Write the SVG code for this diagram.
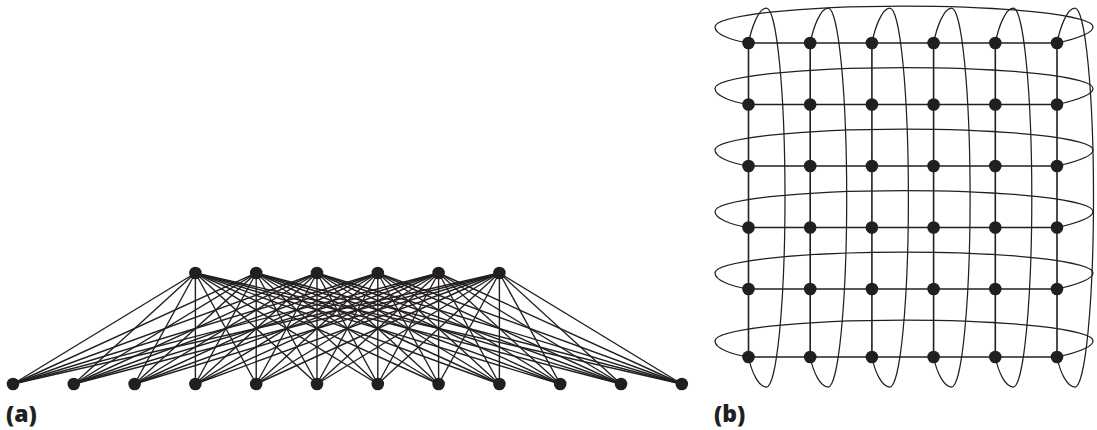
<svg xmlns="http://www.w3.org/2000/svg" width="1097" height="430" viewBox="0 0 1097 430">
<style>
.e{stroke:#231f20;stroke-width:1.4;fill:none}
.g{stroke:#231f20;stroke-width:1.6;fill:none}
.w{stroke:#231f20;stroke-width:1.25;fill:none}
.n{fill:#231f20}
.lbl{font-family:"Open Sans","Liberation Sans",sans-serif;font-weight:800;font-size:23px;fill:#231f20}
</style>
<defs><circle id="dot" r="6.3" class="n"/></defs>
<g id="connectors">
<g id="a-edges">
<line class="e" x1="195.4" y1="273" x2="13" y2="384"/><line class="e" x1="195.4" y1="273" x2="73.8" y2="384"/><line class="e" x1="195.4" y1="273" x2="134.6" y2="384"/><line class="e" x1="195.4" y1="273" x2="195.4" y2="384"/><line class="e" x1="195.4" y1="273" x2="256.2" y2="384"/><line class="e" x1="195.4" y1="273" x2="317" y2="384"/><line class="e" x1="195.4" y1="273" x2="377.8" y2="384"/><line class="e" x1="195.4" y1="273" x2="438.6" y2="384"/><line class="e" x1="195.4" y1="273" x2="499.4" y2="384"/><line class="e" x1="195.4" y1="273" x2="560.2" y2="384"/><line class="e" x1="195.4" y1="273" x2="621" y2="384"/><line class="e" x1="195.4" y1="273" x2="681.8" y2="384"/>
<line class="e" x1="256.2" y1="273" x2="13" y2="384"/><line class="e" x1="256.2" y1="273" x2="73.8" y2="384"/><line class="e" x1="256.2" y1="273" x2="134.6" y2="384"/><line class="e" x1="256.2" y1="273" x2="195.4" y2="384"/><line class="e" x1="256.2" y1="273" x2="256.2" y2="384"/><line class="e" x1="256.2" y1="273" x2="317" y2="384"/><line class="e" x1="256.2" y1="273" x2="377.8" y2="384"/><line class="e" x1="256.2" y1="273" x2="438.6" y2="384"/><line class="e" x1="256.2" y1="273" x2="499.4" y2="384"/><line class="e" x1="256.2" y1="273" x2="560.2" y2="384"/><line class="e" x1="256.2" y1="273" x2="621" y2="384"/><line class="e" x1="256.2" y1="273" x2="681.8" y2="384"/>
<line class="e" x1="317" y1="273" x2="13" y2="384"/><line class="e" x1="317" y1="273" x2="73.8" y2="384"/><line class="e" x1="317" y1="273" x2="134.6" y2="384"/><line class="e" x1="317" y1="273" x2="195.4" y2="384"/><line class="e" x1="317" y1="273" x2="256.2" y2="384"/><line class="e" x1="317" y1="273" x2="317" y2="384"/><line class="e" x1="317" y1="273" x2="377.8" y2="384"/><line class="e" x1="317" y1="273" x2="438.6" y2="384"/><line class="e" x1="317" y1="273" x2="499.4" y2="384"/><line class="e" x1="317" y1="273" x2="560.2" y2="384"/><line class="e" x1="317" y1="273" x2="621" y2="384"/><line class="e" x1="317" y1="273" x2="681.8" y2="384"/>
<line class="e" x1="377.8" y1="273" x2="13" y2="384"/><line class="e" x1="377.8" y1="273" x2="73.8" y2="384"/><line class="e" x1="377.8" y1="273" x2="134.6" y2="384"/><line class="e" x1="377.8" y1="273" x2="195.4" y2="384"/><line class="e" x1="377.8" y1="273" x2="256.2" y2="384"/><line class="e" x1="377.8" y1="273" x2="317" y2="384"/><line class="e" x1="377.8" y1="273" x2="377.8" y2="384"/><line class="e" x1="377.8" y1="273" x2="438.6" y2="384"/><line class="e" x1="377.8" y1="273" x2="499.4" y2="384"/><line class="e" x1="377.8" y1="273" x2="560.2" y2="384"/><line class="e" x1="377.8" y1="273" x2="621" y2="384"/><line class="e" x1="377.8" y1="273" x2="681.8" y2="384"/>
<line class="e" x1="438.6" y1="273" x2="13" y2="384"/><line class="e" x1="438.6" y1="273" x2="73.8" y2="384"/><line class="e" x1="438.6" y1="273" x2="134.6" y2="384"/><line class="e" x1="438.6" y1="273" x2="195.4" y2="384"/><line class="e" x1="438.6" y1="273" x2="256.2" y2="384"/><line class="e" x1="438.6" y1="273" x2="317" y2="384"/><line class="e" x1="438.6" y1="273" x2="377.8" y2="384"/><line class="e" x1="438.6" y1="273" x2="438.6" y2="384"/><line class="e" x1="438.6" y1="273" x2="499.4" y2="384"/><line class="e" x1="438.6" y1="273" x2="560.2" y2="384"/><line class="e" x1="438.6" y1="273" x2="621" y2="384"/><line class="e" x1="438.6" y1="273" x2="681.8" y2="384"/>
<line class="e" x1="499.4" y1="273" x2="13" y2="384"/><line class="e" x1="499.4" y1="273" x2="73.8" y2="384"/><line class="e" x1="499.4" y1="273" x2="134.6" y2="384"/><line class="e" x1="499.4" y1="273" x2="195.4" y2="384"/><line class="e" x1="499.4" y1="273" x2="256.2" y2="384"/><line class="e" x1="499.4" y1="273" x2="317" y2="384"/><line class="e" x1="499.4" y1="273" x2="377.8" y2="384"/><line class="e" x1="499.4" y1="273" x2="438.6" y2="384"/><line class="e" x1="499.4" y1="273" x2="499.4" y2="384"/><line class="e" x1="499.4" y1="273" x2="560.2" y2="384"/><line class="e" x1="499.4" y1="273" x2="621" y2="384"/><line class="e" x1="499.4" y1="273" x2="681.8" y2="384"/>
</g>
<g id="b-grid">
<line class="g" x1="748.5" y1="43" x2="1057" y2="43"/>
<line class="g" x1="748.5" y1="104.5" x2="1057" y2="104.5"/>
<line class="g" x1="748.5" y1="166" x2="1057" y2="166"/>
<line class="g" x1="748.5" y1="227.5" x2="1057" y2="227.5"/>
<line class="g" x1="748.5" y1="289" x2="1057" y2="289"/>
<line class="g" x1="748.5" y1="357" x2="1057" y2="357"/>
<line class="g" x1="748.5" y1="43" x2="748.5" y2="357"/>
<line class="g" x1="810.2" y1="43" x2="810.2" y2="357"/>
<line class="g" x1="871.9" y1="43" x2="871.9" y2="357"/>
<line class="g" x1="933.6" y1="43" x2="933.6" y2="357"/>
<line class="g" x1="995.3" y1="43" x2="995.3" y2="357"/>
<line class="g" x1="1057" y1="43" x2="1057" y2="357"/>
</g>
<g id="b-row-wraps">
<path class="w" d="M748.5,43 C730,40 715,34 715,27 A189 21 0 0 1 1093,27 C1093,34 1075,39 1057,43"/>
<path class="w" d="M748.5,104.5 C730,101.5 715,95.5 715,88.5 A189 21 0 0 1 1093,88.5 C1093,95.5 1075,100.5 1057,104.5"/>
<path class="w" d="M748.5,166 C730,163 715,157 715,150 A189 21 0 0 1 1093,150 C1093,157 1075,162 1057,166"/>
<path class="w" d="M748.5,227.5 C730,224.5 715,218.5 715,211.5 A189 21 0 0 1 1093,211.5 C1093,218.5 1075,223.5 1057,227.5"/>
<path class="w" d="M748.5,289 C730,286 715,280 715,273 A189 21 0 0 1 1093,273 C1093,280 1075,285 1057,289"/>
<path class="w" d="M748.5,357 C730,354 715,348 715,341 A189 21 0 0 1 1093,341 C1093,348 1075,353 1057,357"/>
</g>
<g id="b-col-wraps">
<path class="w" d="M748.5,43 C751.5,28 758.5,8 766.5,8 A18.5 189.5 0 0 1 766.5,387 C758.5,387 751.5,372 748.5,357"/>
<path class="w" d="M810.2,43 C813.2,28 820.2,8 828.2,8 A18.5 189.5 0 0 1 828.2,387 C820.2,387 813.2,372 810.2,357"/>
<path class="w" d="M871.9,43 C874.9,28 881.9,8 889.9,8 A18.5 189.5 0 0 1 889.9,387 C881.9,387 874.9,372 871.9,357"/>
<path class="w" d="M933.6,43 C936.6,28 943.6,8 951.6,8 A18.5 189.5 0 0 1 951.6,387 C943.6,387 936.6,372 933.6,357"/>
<path class="w" d="M995.3,43 C998.3,28 1005.3,8 1013.3,8 A18.5 189.5 0 0 1 1013.3,387 C1005.3,387 998.3,372 995.3,357"/>
<path class="w" d="M1057,43 C1060,28 1067,8 1075,8 A18.5 189.5 0 0 1 1075,387 C1067,387 1060,372 1057,357"/>
</g>
</g>
<g id="a-top">
<g id="a-t1"><use href="#dot" x="195.4" y="273"/></g>
<g id="a-t2"><use href="#dot" x="256.2" y="273"/></g>
<g id="a-t3"><use href="#dot" x="317" y="273"/></g>
<g id="a-t4"><use href="#dot" x="377.8" y="273"/></g>
<g id="a-t5"><use href="#dot" x="438.6" y="273"/></g>
<g id="a-t6"><use href="#dot" x="499.4" y="273"/></g>
</g>
<g id="a-bottom">
<g id="a-b1"><use href="#dot" x="13" y="384"/></g>
<g id="a-b2"><use href="#dot" x="73.8" y="384"/></g>
<g id="a-b3"><use href="#dot" x="134.6" y="384"/></g>
<g id="a-b4"><use href="#dot" x="195.4" y="384"/></g>
<g id="a-b5"><use href="#dot" x="256.2" y="384"/></g>
<g id="a-b6"><use href="#dot" x="317" y="384"/></g>
<g id="a-b7"><use href="#dot" x="377.8" y="384"/></g>
<g id="a-b8"><use href="#dot" x="438.6" y="384"/></g>
<g id="a-b9"><use href="#dot" x="499.4" y="384"/></g>
<g id="a-b10"><use href="#dot" x="560.2" y="384"/></g>
<g id="a-b11"><use href="#dot" x="621" y="384"/></g>
<g id="a-b12"><use href="#dot" x="681.8" y="384"/></g>
</g>
<g id="b-nodes">
<g id="b-r1c1"><use href="#dot" x="748.5" y="43"/></g><g id="b-r1c2"><use href="#dot" x="810.2" y="43"/></g><g id="b-r1c3"><use href="#dot" x="871.9" y="43"/></g><g id="b-r1c4"><use href="#dot" x="933.6" y="43"/></g><g id="b-r1c5"><use href="#dot" x="995.3" y="43"/></g><g id="b-r1c6"><use href="#dot" x="1057" y="43"/></g>
<g id="b-r2c1"><use href="#dot" x="748.5" y="104.5"/></g><g id="b-r2c2"><use href="#dot" x="810.2" y="104.5"/></g><g id="b-r2c3"><use href="#dot" x="871.9" y="104.5"/></g><g id="b-r2c4"><use href="#dot" x="933.6" y="104.5"/></g><g id="b-r2c5"><use href="#dot" x="995.3" y="104.5"/></g><g id="b-r2c6"><use href="#dot" x="1057" y="104.5"/></g>
<g id="b-r3c1"><use href="#dot" x="748.5" y="166"/></g><g id="b-r3c2"><use href="#dot" x="810.2" y="166"/></g><g id="b-r3c3"><use href="#dot" x="871.9" y="166"/></g><g id="b-r3c4"><use href="#dot" x="933.6" y="166"/></g><g id="b-r3c5"><use href="#dot" x="995.3" y="166"/></g><g id="b-r3c6"><use href="#dot" x="1057" y="166"/></g>
<g id="b-r4c1"><use href="#dot" x="748.5" y="227.5"/></g><g id="b-r4c2"><use href="#dot" x="810.2" y="227.5"/></g><g id="b-r4c3"><use href="#dot" x="871.9" y="227.5"/></g><g id="b-r4c4"><use href="#dot" x="933.6" y="227.5"/></g><g id="b-r4c5"><use href="#dot" x="995.3" y="227.5"/></g><g id="b-r4c6"><use href="#dot" x="1057" y="227.5"/></g>
<g id="b-r5c1"><use href="#dot" x="748.5" y="289"/></g><g id="b-r5c2"><use href="#dot" x="810.2" y="289"/></g><g id="b-r5c3"><use href="#dot" x="871.9" y="289"/></g><g id="b-r5c4"><use href="#dot" x="933.6" y="289"/></g><g id="b-r5c5"><use href="#dot" x="995.3" y="289"/></g><g id="b-r5c6"><use href="#dot" x="1057" y="289"/></g>
<g id="b-r6c1"><use href="#dot" x="748.5" y="357"/></g><g id="b-r6c2"><use href="#dot" x="810.2" y="357"/></g><g id="b-r6c3"><use href="#dot" x="871.9" y="357"/></g><g id="b-r6c4"><use href="#dot" x="933.6" y="357"/></g><g id="b-r6c5"><use href="#dot" x="995.3" y="357"/></g><g id="b-r6c6"><use href="#dot" x="1057" y="357"/></g>
</g>
<g id="labels">
<text class="lbl" x="6" y="422">(a)</text>
<text class="lbl" x="714" y="422">(b)</text>
</g>
</svg>
